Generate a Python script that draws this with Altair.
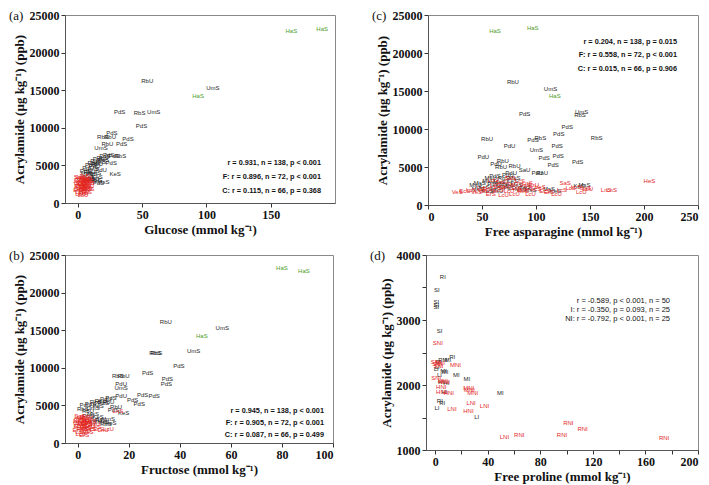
import altair as alt
import pandas as pd

BLACK, RED, GREEN = "#1e1e1e", "#e3261f", "#4e9c2a"
GROUP_COLOR = {"F": BLACK, "C": RED, "H": GREEN, "I": BLACK, "NI": RED}

# ---------------- (a) Glucose ----------------
a_main = [
    (166, 22900, "HaS", "H"), (190, 23200, "HaS", "H"), (93.5, 14250, "HaS", "H"),
    (54, 16200, "RbU", "F"), (105, 15250, "UmS", "F"), (32.5, 12050, "PdS", "F"),
    (48, 11950, "RbS", "F"), (59, 12150, "UmS", "F"), (49.5, 10300, "PdS", "F"),
    (26.5, 9300, "PdS", "F"), (19.5, 8750, "RbS", "F"), (25, 8750, "RbU", "F"),
    (39, 8500, "PdS", "F"), (34, 7900, "PdS", "F"), (23, 7850, "RbU", "F"),
    (18, 7300, "UmS", "F"), (24, 6350, "PdS", "F"), (28, 6300, "PdS", "F"),
    (33, 6200, "RbS", "F"), (26, 5300, "PdS", "F"), (29, 3900, "KeS", "F"),
    (20, 2750, "MsS", "F"),
]
a_cluster_f = [
    (6, 4300, "RbS"), (8, 4700, "PdU"), (9, 4100, "RbU"), (10, 5000, "PdS"), (11, 4500, "UmS"),
    (12, 5300, "RbS"), (13, 4900, "PdU"), (14, 5600, "PdS"), (15, 5200, "RbU"), (16, 5800, "PdS"),
    (17, 5500, "UmS"), (19, 6000, "RbS"), (20, 5700, "PdS"), (7, 3800, "MsS"), (9, 3500, "KeS"),
    (11, 3800, "PdS"), (12, 3200, "RbU"), (14, 3000, "MsS"), (16, 2700, "PdS"), (10, 2900, "RbS"),
    (18, 4400, "PdU"), (13, 4000, "UmS"), (8, 3200, "MsS"), (15, 3500, "KeS"), (21, 6300, "PdS"),
]
a_cluster_c = [
    (1.0, 2900, "LcU"), (2.5, 3300, "VeS"), (4.0, 2600, "LcS"), (5.5, 3100, "SaS"), (7.0, 2700, "ErS"),
    (1.5, 2200, "EcS"), (3.0, 2000, "LnS"), (4.5, 2400, "VeU"), (6.0, 2100, "LcU"), (8.0, 2300, "SaU"),
    (0.5, 1700, "ErU"), (2.0, 1500, "LcS"), (3.5, 1800, "HeS"), (5.0, 1600, "LnU"), (6.5, 1400, "VeS"),
    (8.5, 1900, "EcS"), (1.2, 3500, "SaS"), (3.2, 3400, "LcU"), (5.2, 3600, "ErS"), (7.2, 3300, "LcS"),
    (0.8, 2500, "VeS"), (2.8, 2700, "SaS"), (4.8, 2900, "LnS"), (6.8, 2500, "LcU"), (2.2, 1200, "LcU"),
    (4.2, 1300, "ErS"), (6.2, 1800, "SaS"), (1.8, 3000, "EcS"), (3.8, 3100, "VeU"), (5.8, 2800, "LcS"),
    (7.8, 2900, "HeS"), (2.6, 2300, "LnU"), (4.4, 2100, "ErU"), (6.4, 3200, "SaU"), (3.4, 2500, "LcS"),
    (5.4, 2200, "VeS"), (1.4, 1900, "LcU"), (7.4, 2000, "ErS"), (4.0, 1100, "LcU"), (8.8, 2600, "LnS"),
]
a_stats = ["r = 0.931, n = 138, p < 0.001", "F: r = 0.896, n = 72, p < 0.001", "C: r = 0.115, n = 66, p = 0.368"]

# ---------------- (b) Fructose ----------------
b_main = [
    (80, 23230, "HaS", "H"), (88.6, 22880, "HaS", "H"), (48.6, 14250, "HaS", "H"),
    (34.5, 16150, "RbU", "F"), (56.6, 15270, "UmS", "F"), (30.3, 11950, "RbS", "F"),
    (30.8, 11950, "RbS", "F"), (45.4, 12170, "UmS", "F"), (39.6, 10270, "PdS", "F"),
    (27.4, 9290, "PdS", "F"), (15.7, 8850, "RbS", "F"), (18, 8850, "RbU", "F"),
    (35.1, 8500, "PdS", "F"), (34.7, 7830, "PdS", "F"), (17, 7880, "PdU", "F"),
    (17, 7300, "UmS", "F"), (17, 6280, "PdU", "F"), (25.4, 6370, "PdS", "F"),
    (29.9, 6190, "PdS", "F"), (21.5, 5750, "PdS", "F"), (24.1, 5220, "PdS", "F"),
    (18, 3980, "KeS", "F"),
]
b_cluster_f = [
    (2, 4500, "RbS"), (3, 5000, "PdU"), (4, 4200, "RbU"), (5, 5200, "PdS"), (6, 4700, "UmS"),
    (7, 5400, "RbS"), (8, 4900, "PdS"), (9, 5600, "RbU"), (10, 5300, "PdS"), (11, 5800, "PdU"),
    (12, 5500, "RbU"), (13, 6000, "PdS"), (6, 3800, "MsS"), (8, 3500, "KeS"), (9, 3100, "PdS"),
    (10, 2800, "MsS"), (11, 2500, "RbS"), (12, 3200, "UmS"), (13, 2700, "KeS"), (7, 3000, "PdU"),
    (4, 3600, "RbS"), (14, 4400, "PdS"), (15, 4800, "RbU"), (5, 2800, "MsS"),
]
b_cluster_c = [
    (0.2, 2900, "LcU"), (1.0, 3300, "VeS"), (2.0, 2600, "LcS"), (3.0, 3100, "SaS"), (4.0, 2700, "ErS"),
    (0.5, 2200, "EcS"), (1.5, 2000, "LnS"), (2.5, 2400, "VeU"), (3.5, 2100, "LcU"), (4.5, 2300, "SaU"),
    (0.0, 1700, "ErU"), (1.0, 1500, "LcS"), (2.0, 1800, "HeS"), (3.0, 1600, "LnU"), (4.0, 1400, "VeS"),
    (0.8, 3600, "SaS"), (1.8, 3500, "LcU"), (2.8, 3400, "ErS"), (3.8, 3300, "LcS"), (0.3, 2500, "VeS"),
    (1.3, 2700, "SaS"), (2.3, 2900, "LnS"), (3.3, 2500, "LcU"), (1.2, 1200, "LcU"), (2.5, 1100, "ErS"),
    (4.8, 1900, "SaS"), (0.6, 3000, "EcS"), (2.2, 3100, "VeU"), (3.6, 2800, "LcS"), (5.0, 2900, "HeS"),
    (7.0, 2100, "LnS"), (8.0, 1800, "ErS"), (10.0, 1700, "LnU"), (12.0, 1800, "LcU"), (6.5, 2500, "SaU"),
    (15.7, 4200, "LnS"), (1.6, 2300, "LcS"), (2.9, 2000, "VeS"),
]
b_stats = ["r = 0.945, n = 138, p < 0.001", "F: r = 0.905, n = 72, p < 0.001", "C: r = 0.087, n = 66, p = 0.499"]

# ---------------- (c) Free asparagine ----------------
c_main = [
    (62, 22950, "HaS", "H"), (97, 23250, "HaS", "H"), (117.4, 14290, "HaS", "H"),
    (78.6, 16170, "RbU", "F"), (113.4, 15300, "UmS", "F"), (89.4, 11930, "PdS", "F"),
    (142.2, 12240, "UmS", "F"), (140.7, 11890, "RbS", "F"), (128.9, 10270, "PdS", "F"),
    (54.7, 8740, "RbU", "F"), (97.2, 8520, "PdS", "F"), (104, 8830, "RbS", "F"),
    (121.1, 9310, "PdS", "F"), (156.2, 8830, "RbS", "F"), (75.5, 7780, "PdU", "F"),
    (119.6, 7780, "PdS", "F"), (100.3, 7300, "UmS", "F"), (51.2, 6340, "PdU", "F"),
    (107.5, 6210, "PdS", "F"), (120.5, 6420, "PdS", "F"), (138.5, 5680, "PdS", "F"),
    (115.8, 5240, "PdS", "F"), (69.3, 5770, "RbU", "F"), (63, 5330, "PdU", "F"),
    (67.7, 5030, "RbU", "F"), (80.1, 5110, "RbU", "F"), (89.4, 4590, "SaU", "F"),
    (101.2, 4200, "PdU", "F"), (105.6, 4200, "RbU", "F"), (77, 4150, "PdU", "F"),
]
c_cluster_f = [
    (44, 2600, "MsU"), (48, 2900, "MsS"), (52, 2400, "KeS"), (56, 3100, "MsU"), (60, 2700, "PdS"),
    (63, 2200, "KeS"), (66, 3000, "MsS"), (69, 2500, "UmS"), (72, 2800, "MsU"), (75, 2300, "PdS"),
    (78, 3200, "KeS"), (82, 2600, "MsS"), (86, 2100, "MsU"), (90, 2400, "KeS"), (46, 2100, "MsS"),
    (58, 3500, "MsU"), (62, 3800, "PdS"), (70, 3500, "RbS"), (74, 4000, "PdU"), (80, 3600, "MsS"),
    (55, 1900, "KeS"), (64, 1800, "MsU"), (95, 2000, "MsS"), (112, 2100, "MsS"), (118, 1900, "KeS"),
    (140, 2500, "KeS"), (145, 2600, "MsS"),
]
c_cluster_c = [
    (27, 1750, "VeS"), (34, 1850, "EcS"), (40, 2000, "LcS"), (45, 1700, "VeS"), (50, 2300, "LcU"),
    (55, 2100, "ErS"), (58, 1500, "ErS"), (62, 2600, "LcS"), (65, 2000, "EcS"), (68, 3000, "SaS"),
    (70, 1300, "LcU"), (72, 2400, "VeU"), (75, 1800, "LcU"), (78, 2700, "SaU"), (80, 1400, "LcU"),
    (82, 2200, "ErS"), (85, 3200, "LcS"), (88, 1900, "HeS"), (90, 2600, "SaS"), (92, 2900, "LnS"),
    (95, 2300, "LcU"), (98, 2600, "ErU"), (100, 2100, "LcS"), (104, 2400, "VeS"), (108, 1900, "EcS"),
    (112, 1650, "ErS"), (119, 1400, "LcU"), (124, 2000, "LcS"), (127, 2950, "SaS"), (132, 2200, "LcS"),
    (137, 2400, "LcS"), (142, 1750, "LcU"), (146, 2300, "SaS"), (148, 2050, "LcU"), (165, 1950, "LnS"),
    (170, 1950, "LnS"), (205, 3150, "HeS"), (60, 3300, "LcU"), (76, 3500, "SaS"), (87, 2000, "ErS"),
    (95, 1500, "LcU"), (66, 2400, "LnU"), (52, 1800, "VeU"),
]
c_stats = ["r = 0.204, n = 138, p = 0.015", "F: r = 0.558, n = 72, p < 0.001", "C: r = 0.015, n = 66, p = 0.906"]

# ---------------- (d) Free proline ----------------
d_i = [
    (5.8, 3660, "RI"), (1.3, 3460, "SI"), (0.8, 3280, "SI"), (0.8, 3230, "SI"), (0.8, 3200, "SI"),
    (3.3, 2830, "SI"), (12.9, 2430, "RI"), (5.8, 2390, "RM"), (9.6, 2390, "MI"), (0.8, 2250, "LI"),
    (6.3, 2215, "MI"), (3.3, 2160, "LI"), (16, 2150, "MI"), (24, 2090, "MI"), (7, 1900, "HI"),
    (49.6, 1880, "MI"), (5.3, 1730, "RI"), (1.3, 1650, "LI"), (31.6, 1510, "LI"), (2.5, 2350, "RI"),
    (4.5, 2050, "HI"), (8.5, 2030, "HI"), (3.5, 1750, "RI"), (1.5, 2280, "LI"), (7.5, 2200, "MI"),
]
d_ni = [
    (2, 2640, "SNI"), (0.5, 2350, "SNI"), (1.5, 2320, "SNI"), (2.5, 2300, "SNI"), (3.5, 2340, "SNI"),
    (15.4, 2310, "MNI"), (0.8, 2110, "SNI"), (5.8, 2060, "HNI"), (7.1, 2050, "MNI"), (4.6, 1970, "HNI"),
    (4.6, 1900, "HNI"), (10.4, 1870, "HNI"), (26, 1930, "MNI"), (28.6, 1880, "MNI"), (25.5, 1950, "MNI"),
    (27.3, 1720, "LNI"), (37.5, 1670, "LNI"), (12.7, 1630, "LNI"), (25.3, 1600, "HNI"), (101.3, 1410, "RNI"),
    (112.2, 1330, "RNI"), (64, 1230, "RNI"), (96.5, 1230, "RNI"), (52.7, 1200, "LNI"), (174.2, 1180, "RNI"),
]
d_stats = ["r = -0.589, p < 0.001, n = 50", "I: r = -0.350, p = 0.093, n = 25", "NI: r = -0.792, p < 0.001, n = 25"]

Y_TITLE = "Acrylamide (µg kg⁻¹) (ppb)"


def frame(main, cl_f=(), cl_c=(), fgrp="F", cgrp="C"):
    rows = list(main)
    rows += [(x, y, l, fgrp) for x, y, l in cl_f]
    rows += [(x, y, l, cgrp) for x, y, l in cl_c]
    df = pd.DataFrame(rows, columns=["x", "y", "lab", "grp"])
    df["col"] = df["grp"].map(GROUP_COLOR)
    return df


def panel(df, xtitle, xdom, xticks, ydom, yticks, w, h, letter, stats, sx, sy, lh,
          bold=True, xlab_step=None, ylab_step=None):
    xaxis = dict(values=xticks, title=xtitle, format="d")
    if xlab_step:
        xaxis["labelExpr"] = f"datum.value % {xlab_step} == 0 ? datum.label : ''"
    yaxis = dict(values=yticks, title=Y_TITLE, format="d")
    if ylab_step:
        yaxis["labelExpr"] = f"datum.value % {ylab_step} == 0 ? datum.label : ''"
    pts = alt.Chart(df).mark_text(fontSize=6, font="Liberation Sans").encode(
        x=alt.X("x:Q", scale=alt.Scale(domain=xdom, nice=False, zero=False), axis=alt.Axis(**xaxis)),
        y=alt.Y("y:Q", scale=alt.Scale(domain=ydom, nice=False, zero=False), axis=alt.Axis(**yaxis)),
        text="lab:N",
        color=alt.Color("col:N", scale=None, legend=None),
    )
    st = alt.Chart(pd.DataFrame({"t": ["\n".join(stats)]})).mark_text(
        align="right", baseline="middle", lineBreak="\n", lineHeight=lh,
        fontSize=7.3 if bold else 7.5, fontWeight="bold" if bold else "normal",
        font="Liberation Sans", color="#111111",
    ).encode(x=alt.value(sx), y=alt.value(sy), text="t:N")
    let = alt.Chart(pd.DataFrame({"t": [letter]})).mark_text(
        align="left", baseline="middle", fontSize=13, font="Liberation Serif", color="#111111",
    ).encode(x=alt.value(-56), y=alt.value(1), text="t:N")
    return alt.layer(pts, st, let).properties(width=w, height=h)


pa = panel(frame(a_main, a_cluster_f, a_cluster_c), "Glucose (mmol kg⁻¹)", [-10, 200], [0, 50, 100, 150],
           [0, 25000], [0, 5000, 10000, 15000, 20000, 25000], 270, 188, "(a)", a_stats, 256, 148, 14)
pb = panel(frame(b_main, b_cluster_f, b_cluster_c), "Fructose (mmol kg⁻¹)", [-5, 100], [0, 20, 40, 60, 80, 100],
           [0, 25000], [0, 5000, 10000, 15000, 20000, 25000], 268, 188, "(b)", b_stats, 259, 156, 12)
pc = panel(frame(c_main, c_cluster_f, c_cluster_c), "Free asparagine (mmol kg⁻¹)", [0, 250], [0, 50, 100, 150, 200, 250],
           [0, 25000], [0, 5000, 10000, 15000, 20000, 25000], 270, 190, "(c)", c_stats, 249, 27, 13.3)
pd_ = panel(frame([], d_i, d_ni, "I", "NI"), "Free proline (mmol kg⁻¹)", [-7, 200], list(range(0, 201, 20)),
            [1000, 4000], list(range(1000, 4001, 500)), 272, 195, "(d)", d_stats, 244, 46, 9,
            bold=False, xlab_step=40, ylab_step=1000)

row1 = alt.hconcat(pa, pc, spacing=35)
row2 = alt.hconcat(pb, pd_, spacing=35)
chart = alt.vconcat(row1, row2, spacing=9).properties(padding=0).configure_axis(
    grid=False,
    labelFont="Liberation Serif", labelFontWeight="bold", labelFontSize=12, labelColor="#111111",
    titleFont="Liberation Serif", titleFontWeight="bold", titleFontSize=13, titleColor="#111111",
    tickColor="#333333", domainColor="#555555", tickSize=4, labelPadding=2, titlePadding=3,
).configure_view(stroke="#888888")

chart.save("out.html", embed_options={"renderer": "svg", "actions": False})
